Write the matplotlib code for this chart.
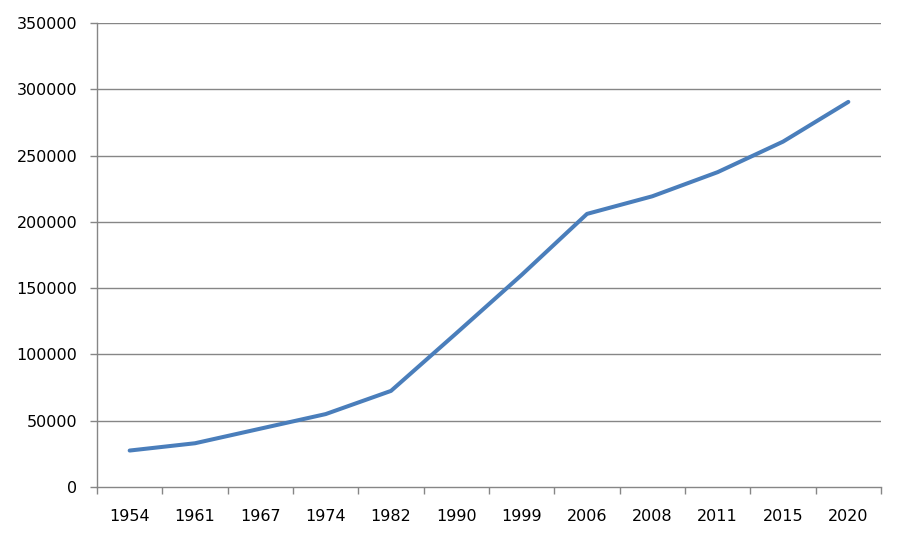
import matplotlib
matplotlib.use("Agg")
import matplotlib.pyplot as plt
import numpy as np

years = ["1954", "1961", "1967", "1974", "1982", "1990", "1999", "2006", "2008", "2011", "2015", "2020"]
values = [27500, 33000, 44000, 55000, 72500, 116000, 160000, 206000, 219300, 237500, 260500, 290500]
y_ticks = [0, 50000, 100000, 150000, 200000, 250000, 300000, 350000]

fig = plt.figure(figsize=(9.04, 5.41), dpi=100)
ax = fig.add_axes([97/904, 1 - 487/541, (881-97)/904, (487-23)/541])

x = np.arange(len(years))
ax.plot(x, values, color="#4A7EBB", linewidth=2.9, solid_capstyle="round", solid_joinstyle="round", zorder=3)

ax.set_xlim(-0.5, len(years) - 0.5)
ax.set_ylim(0, 350000)
ax.set_yticks(y_ticks)
ax.set_yticklabels([str(v) for v in y_ticks])
ax.set_xticks(x)
ax.set_xticklabels(years)
ax.set_xticks(np.arange(-0.5, len(years), 1.0), minor=True)

grid_c = "#868686"
for v in y_ticks[1:]:
    ax.axhline(v, color=grid_c, linewidth=1.0, zorder=1)

for s in ["top", "right"]:
    ax.spines[s].set_visible(False)
for s in ["left", "bottom"]:
    ax.spines[s].set_color(grid_c)
    ax.spines[s].set_linewidth(1.0)

ax.tick_params(axis="x", which="major", length=0, pad=16, labelsize=11.5, labelcolor="#000000")
ax.tick_params(axis="x", which="minor", length=5, width=1.0, color=grid_c)
ax.tick_params(axis="y", which="major", length=5, width=1.0, color=grid_c, pad=9, labelsize=11.5, labelcolor="#000000")

plt.savefig("out.png", dpi=100)
